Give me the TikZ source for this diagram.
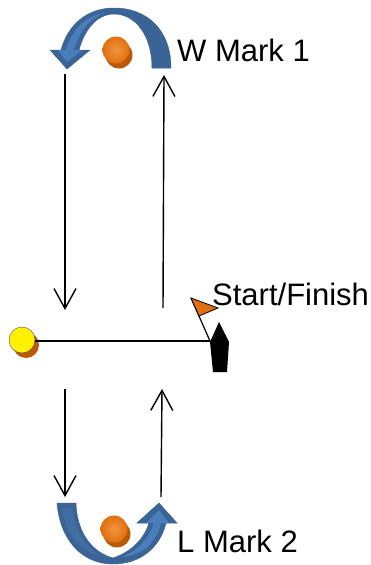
\documentclass[tikz,border=0pt]{standalone}
\usepackage{fontspec}
\setmainfont{Liberation Sans}
\usetikzlibrary{arrows.meta}
\definecolor{bandblue}{HTML}{3B6496}
\definecolor{bandlight}{HTML}{4A7EBB}
\definecolor{markorange}{HTML}{E0700F}
\definecolor{markcore}{HTML}{F39440}
\definecolor{markshadow}{HTML}{B85A0A}
\tikzset{
  lbl/.style={font=\fontsize{31}{33}\selectfont,inner sep=0pt,anchor=west},
  leg/.style={line width=1.4pt,-{Straight Barb[length=20pt,width=22pt,line width=1.4pt]}},
  band/.style={fill=bandblue,draw=bandblue,line width=.5pt},
  bandin/.style={fill=bandlight,draw=none},
  ball/.style={circle,minimum size=27pt,inner sep=0pt,shading=radial,inner color=markcore,outer color=markorange},
  shade/.style={circle,minimum size=27pt,inner sep=0pt,fill=markshadow}
}
\begin{document}
\begin{tikzpicture}[x=1pt,y=-1pt]
        \useasboundingbox (0,0) rectangle (371,565);
        % W mark
        \draw[band] (171,68) .. controls (171,30) and (147,8) .. (114,8) .. controls (88,8) and (68,24) .. (61,50) -- (50,50) -- (67,69) -- (90,50) -- (79,50) .. controls (85,28) and (98,14) .. (114,14) .. controls (135,14) and (152,35) .. (152,68) -- cycle;
        \path[bandin] (66,50) -- (58,50) -- (67,62) -- (82,50) -- (74,50) .. controls (80,30) and (90,18) .. (105,13) .. controls (88,15) and (72,28) .. (66,50) -- cycle;
        \node[shade] (WShadow) at (119,55) {};
        \node[ball] (WMark) at (116,50) {};
        \node[lbl] (WLabel) at (177,50) {W Mark 1};
        % L mark
        \draw[band] (57,503) .. controls (60,540) and (82,564) .. (113,564) .. controls (140,564) and (160,548) .. (166,523) -- (177,523) -- (159,503) -- (137,523) -- (149,523) .. controls (143,542) and (128,553) .. (113,558) .. controls (94,553) and (77,535) .. (76,503) -- cycle;
        \path[bandin] (161,523) -- (169,523) -- (159,510) -- (146,523) -- (154,523) .. controls (148,540) and (138,550) .. (122,557) .. controls (142,555) and (155,545) .. (161,523) -- cycle;
        \path[bandin,opacity=.35] (62,508) -- (72,508) .. controls (74,530) and (88,550) .. (103,557) .. controls (80,552) and (66,535) .. (62,508) -- cycle;
        \node[shade] (LShadow) at (117,534) {};
        \node[ball] (LMark) at (114,529) {};
        \node[lbl] (LLabel) at (177,541) {L Mark 2};
        % start line
        \node[circle,minimum size=26pt,inner sep=0pt,fill=markshadow] (PinShadow) at (26,345) {};
        \node[circle,minimum size=26pt,inner sep=0pt,fill=yellow,draw=black!70,line width=.4pt] (Pin) at (22,340) {};
        \fill (219,322) -- (229,342) -- (227,372) -- (213,372) -- (210,342) -- cycle;
        \coordinate (Boat) at (210,341);
        \coordinate (FlagTop) at (191,298);
        \draw[line width=2pt] (Pin.east |- Boat) -- (Boat);
        \draw[line width=1.2pt] (Boat) -- (FlagTop);
        \draw[fill=markorange,line width=.8pt] (FlagTop) -- (218,308) -- (199,316) -- cycle;
        \node[lbl] (StartLabel) at (212,294) {Start/Finish};
        % legs
        \coordinate (A1) at (65,74);
        \coordinate (A2) at (65,310);
        \coordinate (B1) at (163,308);
        \coordinate (B2) at (164,75);
        \coordinate (C1) at (65,389);
        \coordinate (C2) at (65,497);
        \coordinate (D1) at (161,497);
        \coordinate (D2) at (162,389);
        \draw[leg] (A1) -- (A2);
        \draw[leg] (B1) -- (B2);
        \draw[leg] (C1) -- (C2);
        \draw[leg] (D1) -- (D2);
      \end{tikzpicture}
\end{document}
